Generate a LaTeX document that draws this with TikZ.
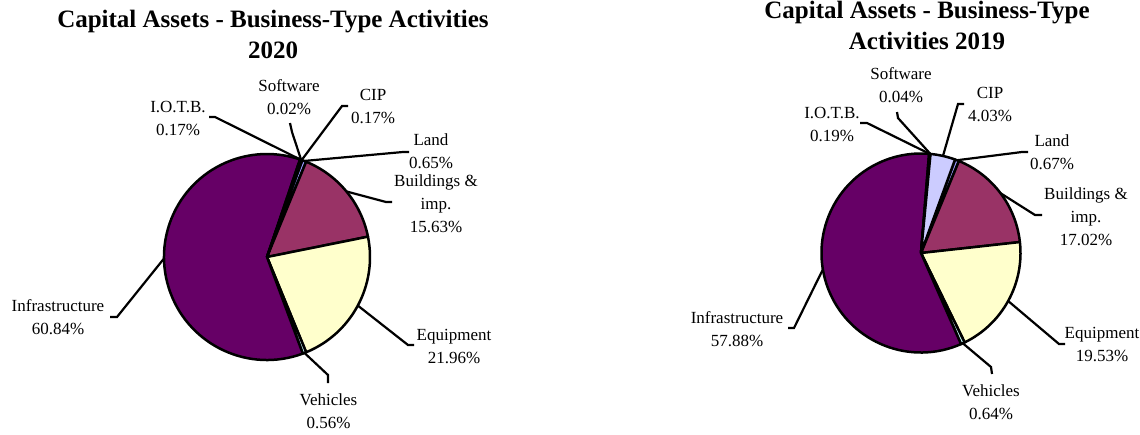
\documentclass[tikz,border=0pt]{standalone}
\usepackage{fontspec}
\setmainfont{Liberation Serif}
\usepackage{xcolor}
\usepackage{tikz}
\usetikzlibrary{calc}
\definecolor{landcol}{HTML}{9999FF}
\definecolor{bldcol}{HTML}{993366}
\definecolor{equipcol}{HTML}{FFFFCC}
\definecolor{vehcol}{HTML}{CCFFFF}
\definecolor{infcol}{HTML}{660066}
\definecolor{iotbcol}{HTML}{FF8080}
\definecolor{swcol}{HTML}{0066CC}
\definecolor{cipcol}{HTML}{CCCCFF}
\tikzset{
	lbl/.style={align=center,inner sep=0pt,font=\fontsize{17}{23}\selectfont},
	ttl/.style={align=center,inner sep=0pt,font=\fontsize{25}{31}\selectfont\bfseries},
	slice/.style={draw=black,line width=2.5pt,line join=round},
	leader/.style={draw=black,line width=2.2pt}
}

\begin{document}
\begin{tikzpicture}[x=1pt,y=-1pt]
	\useasboundingbox (0,0) rectangle (1140,434);
	% 2020
	\node[ttl] (ttlL) at (273,34) {Capital Assets - Business-Type Activities\\2020};
	\coordinate (cL) at (267,257);
	\filldraw[slice,fill=landcol] (cL) -- ++(-70:103) arc[start angle=-70,end angle=-67.66,radius=103] -- cycle;
	\filldraw[slice,fill=bldcol] (cL) -- ++(-67.66:103) arc[start angle=-67.66,end angle=-11.39,radius=103] -- cycle;
	\filldraw[slice,fill=equipcol] (cL) -- ++(-11.39:103) arc[start angle=-11.39,end angle=67.66,radius=103] -- cycle;
	\filldraw[slice,fill=vehcol] (cL) -- ++(67.66:103) arc[start angle=67.66,end angle=69.68,radius=103] -- cycle;
	\filldraw[slice,fill=infcol] (cL) -- ++(69.68:103) arc[start angle=69.68,end angle=288.70,radius=103] -- cycle;
	\filldraw[slice,fill=iotbcol] (cL) -- ++(288.70:103) arc[start angle=288.70,end angle=289.32,radius=103] -- cycle;
	\filldraw[slice,fill=swcol] (cL) -- ++(289.32:103) arc[start angle=289.32,end angle=289.39,radius=103] -- cycle;
	\filldraw[slice,fill=cipcol] (cL) -- ++(289.39:103) arc[start angle=289.39,end angle=290,radius=103] -- cycle;
	\node[lbl] (swL) at (289,97) {Software\\0.02\%};
	\node[lbl] (iotbL) at (178,118) {I.O.T.B.\\0.17\%};
	\node[lbl] (cipL) at (373,106) {CIP\\0.17\%};
	\node[lbl] (lndL) at (431,151) {Land\\0.65\%};
	\node[lbl] (bldL) at (436,204) {Buildings \&\\imp.\\15.63\%};
	\node[lbl] (eqL) at (454,346.5) {Equipment\\21.96\%};
	\node[lbl] (vehL) at (328.5,411) {Vehicles\\0.56\%};
	\node[lbl] (infL) at (58,317.5) {Infrastructure\\60.84\%};
	\coordinate (iotbLa) at ($(cL)+(289.01:103)$);
	\coordinate (iotbLb) at (215,117);
	\coordinate (iotbLc) at (209,117);
	\coordinate (swLa) at ($(cL)+(289.35:103)$);
	\coordinate (swLb) at (292,132);
	\coordinate (swLc) at (290,123);
	\coordinate (cipLa) at ($(cL)+(289.69:103)$);
	\coordinate (cipLb) at (342,106);
	\coordinate (cipLc) at (348,106);
	\coordinate (lndLa) at ($(cL)+(-68.83:103)$);
	\coordinate (lndLb) at (403,152);
	\coordinate (lndLc) at (409,152);
	\coordinate (bldLa) at ($(cL)+(-39.53:103)$);
	\coordinate (bldLb) at (386,202);
	\coordinate (bldLc) at (392,202);
	\coordinate (eqLa) at ($(cL)+(28.14:103)$);
	\coordinate (eqLb) at (408,345);
	\coordinate (eqLc) at (414,345);
	\coordinate (vehLa) at ($(cL)+(68.67:103)$);
	\coordinate (vehLb) at (328,375);
	\coordinate (vehLc) at (328,383);
	\coordinate (infLa) at ($(cL)+(179.19:103)$);
	\coordinate (infLb) at (117,317);
	\coordinate (infLc) at (110,317);
	\draw[leader] (iotbLa) -- (iotbLb) -- (iotbLc);
	\draw[leader] (swLa) -- (swLb) -- (swLc);
	\draw[leader] (cipLa) -- (cipLb) -- (cipLc);
	\draw[leader] (lndLa) -- (lndLb) -- (lndLc);
	\draw[leader] (bldLa) -- (bldLb) -- (bldLc);
	\draw[leader] (eqLa) -- (eqLb) -- (eqLc);
	\draw[leader] (vehLa) -- (vehLb) -- (vehLc);
	\draw[leader] (infLa) -- (infLb) -- (infLc);
	% 2019
	\node[ttl] (ttlR) at (927,25.5) {Capital Assets - Business-Type\\Activities 2019};
	\coordinate (cR) at (921,253);
	\filldraw[slice,fill=landcol] (cR) -- ++(-70:99.5) arc[start angle=-70,end angle=-67.59,radius=99.5] -- cycle;
	\filldraw[slice,fill=bldcol] (cR) -- ++(-67.59:99.5) arc[start angle=-67.59,end angle=-6.32,radius=99.5] -- cycle;
	\filldraw[slice,fill=equipcol] (cR) -- ++(-6.32:99.5) arc[start angle=-6.32,end angle=63.99,radius=99.5] -- cycle;
	\filldraw[slice,fill=vehcol] (cR) -- ++(63.99:99.5) arc[start angle=63.99,end angle=66.29,radius=99.5] -- cycle;
	\filldraw[slice,fill=infcol] (cR) -- ++(66.29:99.5) arc[start angle=66.29,end angle=274.66,radius=99.5] -- cycle;
	\filldraw[slice,fill=iotbcol] (cR) -- ++(274.66:99.5) arc[start angle=274.66,end angle=275.34,radius=99.5] -- cycle;
	\filldraw[slice,fill=swcol] (cR) -- ++(275.34:99.5) arc[start angle=275.34,end angle=275.49,radius=99.5] -- cycle;
	\filldraw[slice,fill=cipcol] (cR) -- ++(275.49:99.5) arc[start angle=275.49,end angle=290,radius=99.5] -- cycle;
	\node[lbl] (swR) at (901,85) {Software\\0.04\%};
	\node[lbl] (iotbR) at (832,124) {I.O.T.B.\\0.19\%};
	\node[lbl] (cipR) at (990,104) {CIP\\4.03\%};
	\node[lbl] (lndR) at (1052,152) {Land\\0.67\%};
	\node[lbl] (bldR) at (1086,217) {Buildings \&\\imp.\\17.02\%};
	\node[lbl] (eqR) at (1102,344) {Equipment\\19.53\%};
	\node[lbl] (vehR) at (991,402) {Vehicles\\0.64\%};
	\node[lbl] (infR) at (737,329) {Infrastructure\\57.88\%};
	\coordinate (iotbRa) at ($(cR)+(275.0:99.5)$);
	\coordinate (iotbRb) at (867,123);
	\coordinate (iotbRc) at (860,123);
	\coordinate (swRa) at ($(cR)+(275.41:99.5)$);
	\coordinate (swRb) at (898,118);
	\coordinate (swRc) at (897,112);
	\coordinate (cipRa) at ($(cR)+(282.75:99.5)$);
	\coordinate (cipRb) at (958,104);
	\coordinate (cipRc) at (964,104);
	\coordinate (lndRa) at ($(cR)+(-68.8:99.5)$);
	\coordinate (lndRb) at (1022,152);
	\coordinate (lndRc) at (1028,152);
	\coordinate (bldRa) at ($(cR)+(-36.96:99.5)$);
	\coordinate (bldRb) at (1035,215);
	\coordinate (bldRc) at (1042,215);
	\coordinate (eqRa) at ($(cR)+(28.84:99.5)$);
	\coordinate (eqRb) at (1059,344);
	\coordinate (eqRc) at (1065,344);
	\coordinate (vehRa) at ($(cR)+(65.14:99.5)$);
	\coordinate (vehRb) at (991,367);
	\coordinate (vehRc) at (992,374);
	\coordinate (infRa) at ($(cR)+(170.48:99.5)$);
	\coordinate (infRb) at (794,328);
	\coordinate (infRc) at (788,328);
	\draw[leader] (iotbRa) -- (iotbRb) -- (iotbRc);
	\draw[leader] (swRa) -- (swRb) -- (swRc);
	\draw[leader] (cipRa) -- (cipRb) -- (cipRc);
	\draw[leader] (lndRa) -- (lndRb) -- (lndRc);
	\draw[leader] (bldRa) -- (bldRb) -- (bldRc);
	\draw[leader] (eqRa) -- (eqRb) -- (eqRc);
	\draw[leader] (vehRa) -- (vehRb) -- (vehRc);
	\draw[leader] (infRa) -- (infRb) -- (infRc);
\end{tikzpicture}
\end{document}
